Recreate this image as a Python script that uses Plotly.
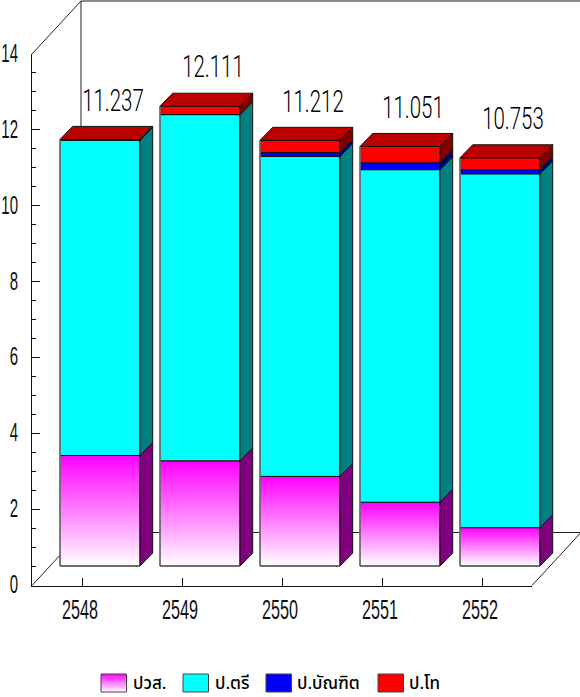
import plotly.graph_objects as go

years = ["2548", "2549", "2550", "2551", "2552"]
totals = ["11.237", "12.111", "11.212", "11.051", "10.753"]
pvs = [2.91, 2.77, 2.36, 1.68, 1.01]
bachelor = [8.30, 9.12, 8.43, 8.76, 9.32]
graduate = [0.0, 0.0, 0.10, 0.18, 0.11]
master = [0.027, 0.221, 0.322, 0.431, 0.313]

series = [
    ("ปวส.", pvs, "#ff00ff", "#800080"),
    ("ป.ตรี", bachelor, "#00ffff", "#008080"),
    ("ป.บัณฑิต", graduate, "#0000ff", "#000080"),
    ("ป.โท", master, "#ff0000", "#800000"),
]

W, H = 580, 697
L, R, T, B = 32, 532, 54, 585.5
PXX = (R - L) / 5.0
PXY = (B - T) / 14.0
FONT = "Liberation Sans"
EDGE = "#111111"

wall_dx, wall_dy = 49 / PXX, 53 / PXY
bar_dx, bar_dy = 12.7 / PXX, 13 / PXY
x_shift, y_shift = 18 / PXX, 19.5 / PXY
half = 40 / PXX
label_dx = 13 / PXX


def dx(px):
    return (px - L) / PXX - 0.5


def dy(px):
    return (B - px) / PXY


fig = go.Figure()

# carrier of the visible axes
fig.add_trace(go.Scatter(x=[0], y=[0], mode="markers", marker=dict(opacity=0), xaxis="x", yaxis="y",
                         showlegend=False, hoverinfo="skip"))


def poly(xs, ys, fill, line=EDGE, width=1, **kw):
    fig.add_trace(go.Scatter(
        x=list(xs) + [xs[0]], y=list(ys) + [ys[0]], mode="lines", fill="toself", fillcolor=fill,
        line=dict(color=line, width=width), showlegend=False, hoverinfo="skip",
        xaxis="x2", yaxis="y2", **kw))


def seg(xs, ys, color, width=1):
    fig.add_trace(go.Scatter(x=xs, y=ys, mode="lines", line=dict(color=color, width=width),
                             showlegend=False, hoverinfo="skip", xaxis="x2", yaxis="y2"))


def grad(color, lo, hi):
    return dict(type="vertical", colorscale=[[0, "#ffffff"], [1, color]], start=lo, stop=hi)


# walls and floor
x0, x1 = -0.5, 4.5
seg([x0 + wall_dx, x1 + wall_dx], [14 + wall_dy, 14 + wall_dy], "#666666", 1.5)
seg([x0, x0 + wall_dx], [14, 14 + wall_dy], "#222222")
seg([x0 + wall_dx, x0 + wall_dx], [14 + wall_dy, wall_dy], "#222222")
seg([x0, x0 + wall_dx, x1 + wall_dx, x1], [0, wall_dy, wall_dy, 0], "#222222")

# bars
for i in range(len(years)):
    xa = i + x_shift - half
    xb = i + x_shift + half
    base = y_shift
    for k, (name, values, col, dark) in enumerate(series):
        top = base + values[i]
        if values[i] > 0:
            kw = {}
            if k == 0:
                kw["fillgradient"] = grad(col, base, top)
            poly([xa, xb, xb, xa], [base, base, top, top], col, **kw)
            poly([xb, xb + bar_dx, xb + bar_dx, xb],
                 [base, base + bar_dy, top + bar_dy, top], dark)
        base = top
    poly([xa, xb, xb + bar_dx, xa + bar_dx], [base, base, base + bar_dy, base + bar_dy], "#bb0000")
    seg([xa, xa], [y_shift, base], "#777777", 1.5)
    seg([xa, xb], [y_shift, y_shift], "#666666", 1.5)

    fig.add_trace(go.Scatter(
        x=[i + x_shift + label_dx], y=[base + bar_dy + 8 / PXY], mode="text", text=[totals[i]],
        textposition="top center", textfont=dict(family="Roboto", weight=300, size=31, color="#000000"),
        showlegend=False, hoverinfo="skip", xaxis="x2", yaxis="y2"))

# legend
swatches = [101, 183, 266, 378]
text_x = [132, 214, 296, 408]
for (name, values, col, dark), sx, tx in zip(series, swatches, text_x):
    xs = [dx(sx), dx(sx + 25.5), dx(sx + 25.5), dx(sx)]
    ys = [dy(692), dy(692), dy(674), dy(674)]
    kw = {}
    if name == "ปวส.":
        kw["fillgradient"] = grad(col, dy(692), dy(674))
    poly(xs, ys, col, line="#444444", **kw)
    fig.add_annotation(x=dx(tx), y=dy(684), xref="x2", yref="y2", text=name, showarrow=False,
                       xanchor="left", yanchor="middle", borderpad=0,
                       font=dict(family="Noto Sans Thai, Noto Sans, DejaVu Sans", size=17, weight=500, color="#000000"))

axis_common = dict(
    ticks="inside", ticklen=8, tickcolor="#111111", showgrid=False, zeroline=False, automargin=False,
    showline=True, linecolor="#111111", linewidth=1)

hidden = dict(visible=False, showgrid=False, zeroline=False, automargin=False, domain=[0, 1])

fig.update_layout(
    width=W, height=H, margin=dict(l=0, r=0, t=0, b=0, autoexpand=False),
    plot_bgcolor="rgba(0,0,0,0)", paper_bgcolor="white", showlegend=False,
    xaxis=dict(
        domain=[L / W, R / W], anchor="y",
        range=[x0, x1], tickmode="array", tickvals=list(range(len(years))), ticktext=years,
        ticklabelstandoff=0, ticklabelshift=-2, tickfont=dict(family=FONT, size=27, color="#111111"), **axis_common),
    yaxis=dict(
        domain=[(H - B) / H, (H - T) / H], anchor="x",
        range=[0, 14], tickmode="array", tickvals=list(range(0, 15, 2)),
        ticklabelstandoff=8, ticklabelshift=-1,
        minor=dict(tickvals=[v * 0.5 for v in range(29)], ticks="inside", ticklen=4, tickcolor="#111111", showgrid=False),
        tickfont=dict(family=FONT, size=25, color="#111111"), **axis_common),
    xaxis2=dict(range=[dx(0), dx(W)], anchor="y2", **hidden),
    yaxis2=dict(range=[dy(H), dy(0)], anchor="x2", **hidden),
)

# the reference numerals are set in a very condensed face; squeeze the real text horizontally
squeeze = """
document.body.style.margin = '0';
document.querySelectorAll('.xtick text, .ytick text').forEach(function (t) {
  t.setAttribute('lengthAdjust', 'spacingAndGlyphs');
  t.setAttribute('textLength', t.getComputedTextLength() * 0.6);
});
document.querySelectorAll('.textpoint text').forEach(function (t) {
  t.setAttribute('lengthAdjust', 'spacingAndGlyphs');
  t.setAttribute('textLength', t.getComputedTextLength() * 0.66);
});
"""
fig.write_html("out.html", post_script=squeeze, config=dict(displayModeBar=False))
